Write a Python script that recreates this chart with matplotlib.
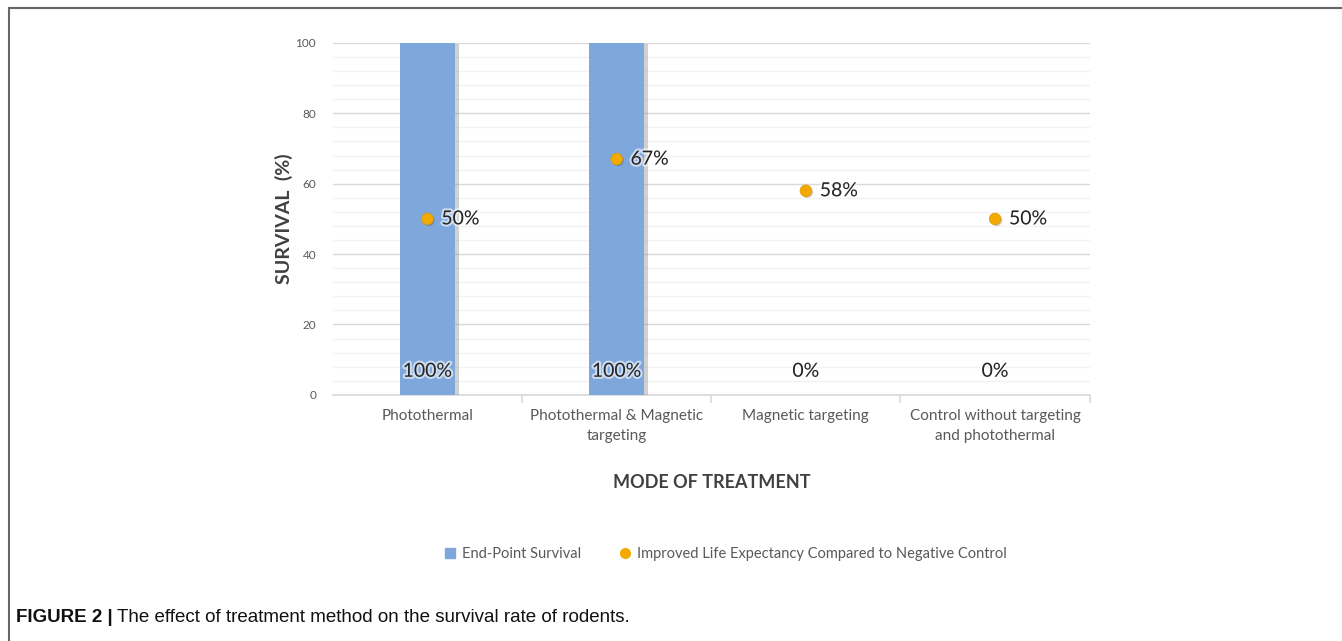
import matplotlib.pyplot as plt
import matplotlib.patheffects as pe
from matplotlib.ticker import MultipleLocator
from matplotlib.lines import Line2D
import numpy as np

categories = ["Photothermal", "Photothermal & Magnetic\ntargeting",
              "Magnetic targeting", "Control without targeting\nand photothermal"]
end_point = [100, 100, 0, 0]
improved = [50, 67, 58, 50]

bar_color = "#7ea7dc"
dot_color = "#f2a900"
txt = "#595959"

plt.rcParams['font.family'] = ['Lato', 'DejaVu Sans']

fig = plt.figure(figsize=(13.42, 6.41), dpi=100)
ax = fig.add_axes([0.248, 0.384, 0.564, 0.549])

x = np.arange(len(categories))
bars = ax.bar(x, end_point, width=0.29, color=bar_color, zorder=3,
              path_effects=[pe.SimplePatchShadow(offset=(3, -1), shadow_rgbFace="#9a9a9a", alpha=0.45),
                            pe.Normal()])
ax.scatter(x, improved, s=70, color=dot_color, zorder=4, edgecolor="#e09a00", linewidth=0.5,
           path_effects=[pe.SimplePatchShadow(offset=(1, -1), alpha=0.25), pe.Normal()])

glow = [pe.withStroke(linewidth=3, foreground="white", alpha=0.6)]
for xi, v in zip(x, improved):
    ax.annotate(f"{v}%", (xi, v), xytext=(10, 0), textcoords="offset points",
                va="center", ha="left", fontsize=14, color="#262626", zorder=5, path_effects=glow)
for xi, v in zip(x, end_point):
    ax.annotate(f"{v}%", (xi, 0), xytext=(0, 17), textcoords="offset points",
                va="center", ha="center", fontsize=14, color="#262626", zorder=5, path_effects=glow)

ax.set_xlim(-0.5, len(categories) - 0.5)
ax.set_ylim(0, 100)
ax.yaxis.set_major_locator(MultipleLocator(20))
ax.yaxis.set_minor_locator(MultipleLocator(4))
ax.grid(axis="y", which="major", color="#d9d9d9", linewidth=1, zorder=0)
ax.grid(axis="y", which="minor", color="#f2f2f2", linewidth=1, zorder=0)
ax.set_axisbelow(True)
for s in ["top", "right", "left"]:
    ax.spines[s].set_visible(False)
ax.spines["bottom"].set_color("#d9d9d9")
ax.spines["bottom"].set_linewidth(1.2)

ax.set_xticks(x)
ax.set_xticklabels(categories, fontsize=11, color=txt, linespacing=1.6)
ax.set_xticks(np.arange(0.5, len(categories), 1), minor=True)
ax.tick_params(axis="x", which="major", length=0, pad=10)
ax.tick_params(axis="x", which="minor", length=6, color="#d9d9d9", width=1.2)
ax.tick_params(axis="y", which="both", length=0, labelsize=8.5, labelcolor=txt, pad=12)

ax.set_ylabel("SURVIVAL  (%)", fontsize=14, fontweight="bold", color="#404040", labelpad=2)
ax.set_xlabel("MODE OF TREATMENT", fontsize=13, fontweight="bold", color="#404040", labelpad=22)

handles = [Line2D([], [], marker="s", linestyle="none", color=bar_color, markersize=7),
           Line2D([], [], marker="o", linestyle="none", color=dot_color, markersize=7)]
fig.legend(handles, ["End-Point Survival", "Improved Life Expectancy Compared to Negative Control"],
           loc="center", bbox_to_anchor=(0.54, 0.135), ncol=2, frameon=False,
           fontsize=10.5, labelcolor=txt, handletextpad=0.3, columnspacing=2.5, handlelength=1)

# frame around the figure panel
fig.add_artist(Line2D([0.0068, 1.0], [0.9875, 0.9875], color="#666666", linewidth=1.5,
                      transform=fig.transFigure))
fig.add_artist(Line2D([0.0068, 0.0068], [0.0, 0.9875], color="#666666", linewidth=1.5,
                      transform=fig.transFigure))

# caption
t1 = fig.text(0.012, 0.03, "FIGURE 2 |", fontsize=13.5, fontweight="bold",
              family="Liberation Sans", color="#111111")
fig.canvas.draw()
bb = t1.get_window_extent()
fig.text(bb.x1 / fig.bbox.width + 0.003, 0.03,
         "The effect of treatment method on the survival rate of rodents.",
         fontsize=13.5, family="Liberation Sans", color="#111111")

fig.savefig("out.png", dpi=100)
